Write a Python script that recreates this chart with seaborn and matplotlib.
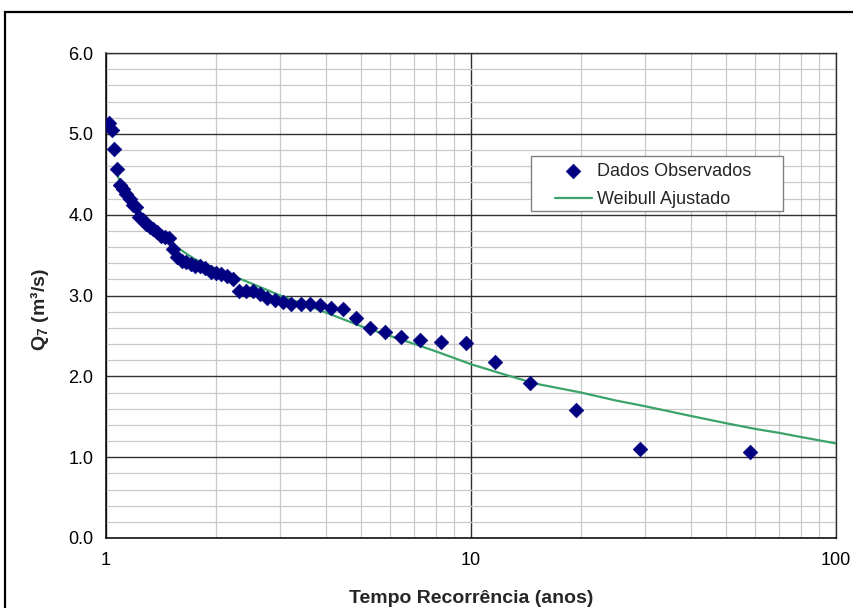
import numpy as np
import pandas as pd
import matplotlib
matplotlib.use("Agg")
import matplotlib.pyplot as plt
import matplotlib.ticker as mticker
from matplotlib.patches import Rectangle
import seaborn as sns

# ---------------- data ----------------
# observed points: recurrence time (years) and Q7 (m3/s)
n_obs = 57
rank = list(range(1, n_obs + 1))
tempo_obs = [(n_obs + 1) / m for m in rank]
q7_obs = [1.07, 1.10, 1.58, 1.92, 2.18, 2.41, 2.43, 2.45, 2.49, 2.55,
          2.60, 2.72, 2.83, 2.85, 2.88, 2.89, 2.90, 2.89, 2.92, 2.95,
          2.97, 3.02, 3.05, 3.06, 3.06, 3.21, 3.24, 3.27, 3.28, 3.29,
          3.34, 3.36, 3.37, 3.39, 3.41, 3.43, 3.48, 3.57, 3.71, 3.72,
          3.74, 3.78, 3.82, 3.85, 3.89, 3.94, 3.97, 4.10, 4.12, 4.20,
          4.25, 4.32, 4.37, 4.57, 4.81, 5.05, 5.13]

# fitted Weibull curve
tempo_fit = [1.06, 1.1, 1.2, 1.3, 1.4, 1.5, 1.75, 2, 2.5, 3, 3.5, 4, 5, 6, 7,
             8, 10, 12, 15, 20, 25, 30, 40, 50, 60, 70, 80, 100]
q7_fit = [4.55, 4.38, 4.08, 3.90, 3.76, 3.65, 3.45, 3.33, 3.15, 3.00, 2.89,
          2.79, 2.62, 2.50, 2.40, 2.31, 2.15, 2.04, 1.91, 1.80, 1.70, 1.63,
          1.51, 1.42, 1.35, 1.30, 1.25, 1.17]

x_ticks = [1, 10, 100]
x_ticklabels = ["1", "10", "100"]
y_ticks = [0.0, 1.0, 2.0, 3.0, 4.0, 5.0, 6.0]
y_ticklabels = ["0.0", "1.0", "2.0", "3.0", "4.0", "5.0", "6.0"]

label_obs = "Dados Observados"
label_fit = "Weibull Ajustado"
xlabel = "Tempo Recorrência (anos)"
ylabel = r"Q$_7$ (m³/s)"

df_obs = pd.DataFrame({"T": tempo_obs, "Q": q7_obs})
df_fit = pd.DataFrame({"T": tempo_fit, "Q": q7_fit})

# ---------------- style ----------------
sns.set_style("white")
plt.rcParams["font.family"] = ["Liberation Sans", "DejaVu Sans"]
plt.rcParams["mathtext.fontset"] = "custom"
plt.rcParams["mathtext.rm"] = "Liberation Sans:bold"
plt.rcParams["mathtext.it"] = "Liberation Sans:bold"
plt.rcParams["mathtext.bf"] = "Liberation Sans:bold"

fig = plt.figure(figsize=(8.54, 6.08), dpi=100)
ax = fig.add_axes([106 / 854, 1 - 538 / 608, 730 / 854, 485 / 608])

# outer chart border
fig.patches.append(Rectangle((5 / 854, -0.2), 1.3, 1 - 12 / 608 + 0.2,
                             transform=fig.transFigure, fill=False,
                             edgecolor="black", linewidth=1.6, zorder=0))

sns.lineplot(data=df_fit, x="T", y="Q", ax=ax, color="#3aa36a",
             linewidth=1.6, estimator=None, sort=False, label=label_fit,
             zorder=3)
sns.scatterplot(data=df_obs, x="T", y="Q", ax=ax, marker="D", s=55,
                color="#000080", edgecolor="#000080", linewidth=0.5,
                label=label_obs, zorder=4)

ax.set_xscale("log")
ax.set_xlim(1, 100)
ax.set_ylim(0, 6)
ax.set_xticks(x_ticks)
ax.set_xticklabels(x_ticklabels)
ax.xaxis.set_minor_locator(mticker.LogLocator(base=10, subs=np.arange(2, 10)))
ax.xaxis.set_minor_formatter(mticker.NullFormatter())
ax.set_yticks(y_ticks)
ax.set_yticklabels(y_ticklabels)
ax.yaxis.set_minor_locator(mticker.MultipleLocator(0.2))

ax.grid(which="minor", color="#c8c8c8", linewidth=0.9)
ax.grid(which="major", color="#303030", linewidth=1.0)
ax.set_axisbelow(True)

ax.tick_params(axis="both", which="major", direction="out", length=5,
               width=1, color="black", labelsize=13, labelcolor="black")
ax.tick_params(axis="x", which="major", pad=5)
ax.tick_params(axis="y", which="major", pad=4)
ax.tick_params(which="minor", length=0)

for side in ["left", "bottom"]:
    ax.spines[side].set_color("black")
    ax.spines[side].set_linewidth(1.1)
for side in ["top", "right"]:
    ax.spines[side].set_color("#303030")
    ax.spines[side].set_linewidth(1.0)

ax.set_xlabel(xlabel, fontsize=14, fontweight="bold", labelpad=15)
ax.set_ylabel(ylabel, fontsize=14, fontweight="bold")
ax.yaxis.set_label_coords(-0.075, 0.472)

# legend frame (drawn separately to match the wide padding)
ax.add_patch(Rectangle((0.582, 0.674), 0.345, 0.114, transform=ax.transAxes,
                       facecolor="white", edgecolor="#808080", linewidth=1.0,
                       zorder=5))
handles, labels = ax.get_legend_handles_labels()
order = [labels.index(label_obs), labels.index(label_fit)]
leg = ax.legend([handles[i] for i in order], [labels[i] for i in order],
                loc="upper left", bbox_to_anchor=(0.615, 0.773),
                borderaxespad=0, borderpad=0, frameon=False, fontsize=13,
                handlelength=2.05, labelspacing=0.6, handletextpad=0.3)
leg.set_zorder(6)

fig.savefig("out.png", dpi=100)
